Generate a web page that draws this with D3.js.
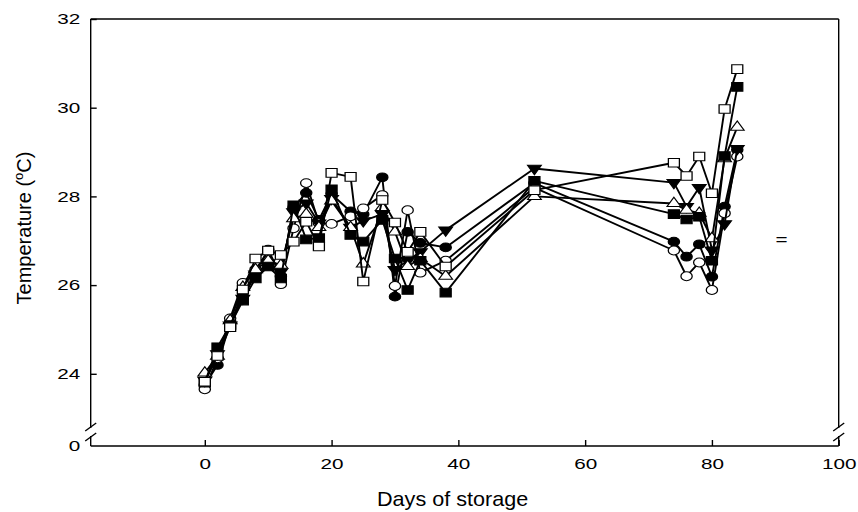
<!DOCTYPE html>
<html>
<head>
<meta charset="utf-8">
<script src="https://cdn.jsdelivr.net/npm/d3@7"></script>
<style>
  html, body { margin: 0; padding: 0; background: #fff; }
  svg { display: block; }
  text { font-family: "Liberation Sans", Arial, sans-serif; fill: #000; }
</style>
</head>
<body>
<svg id="chart" width="858" height="512"></svg>
<script>
// ---- data ----
const days = [0, 2, 4, 6, 8, 10, 12, 14, 16, 18, 20, 23, 25, 28, 30, 32, 34, 38, 52, 74, 76, 78, 80, 82, 84];

const filledCircle   = [23.75, 24.20, 25.15, 25.75, 26.30, 26.80, 26.20, 27.75, 28.08, 27.47, 28.05, 27.66, 27.60, 28.43, 25.74, 27.20, 26.95, 26.85, 28.30, 26.98, 26.64, 26.92, 26.19, 27.77, 29.05];
const openCircle     = [23.65, 24.35, 25.25, 26.05, 26.35, 26.75, 26.02, 27.28, 28.30, 27.40, 27.38, 27.55, 27.73, 28.03, 25.98, 27.69, 26.28, 26.55, 28.20, 26.78, 26.20, 26.51, 25.89, 27.62, 28.90];
const filledTriDown  = [23.85, 24.45, 25.10, 25.70, 26.25, 26.50, 26.30, 27.65, 27.85, 27.40, 27.95, 27.30, 27.45, 27.60, 26.35, 26.55, 26.75, 27.24, 28.63, 28.31, 27.77, 28.20, 26.79, 27.38, 29.08];
const openTriUp      = [24.02, 24.40, 25.20, 25.95, 26.35, 26.55, 26.45, 27.50, 27.60, 27.30, 27.90, 27.30, 26.48, 27.75, 27.20, 26.42, 26.60, 26.20, 28.00, 27.84, 27.69, 27.62, 27.05, 28.85, 29.56];
const filledSquare   = [23.80, 24.60, 25.10, 25.65, 26.15, 26.42, 26.15, 27.80, 27.03, 27.06, 28.16, 27.13, 26.98, 27.47, 26.60, 25.89, 26.55, 25.83, 28.35, 27.60, 27.48, 27.54, 26.55, 28.91, 30.47];
const openSquare     = [23.82, 24.40, 25.05, 25.90, 26.60, 26.78, 26.68, 26.98, 27.43, 26.87, 28.53, 28.44, 26.08, 27.92, 27.41, 26.75, 27.20, 26.42, 28.14, 28.76, 28.46, 28.90, 28.07, 29.97, 30.87];

const xTicks = [0, 20, 40, 60, 80, 100];
const yTicks = [0, 24, 26, 28, 30, 32];
const xTitle = "Days of storage";
const yTitleMain = "Temperature (";
const yTitleSup = "o";
const yTitleEnd = "C)";
const stray = "=";

const series = [
  { values: filledCircle,  shape: "circle",   fill: "#000" },
  { values: openCircle,    shape: "circle",   fill: "#fff" },
  { values: filledTriDown, shape: "triDown",  fill: "#000" },
  { values: openTriUp,     shape: "triUp",    fill: "#fff" },
  { values: filledSquare,  shape: "square",   fill: "#000" },
  { values: openSquare,    shape: "square",   fill: "#fff" }
];

// ---- layout ----
const svg = d3.select("#chart");
const L = 90.7, R = 838.7, T = 19, B = 446;
const SX = 1.38; // horizontal stretch of the original figure

const x = d3.scaleLinear().domain([-18, 100]).range([L, R]);
// broken axis: 0 sits at the bottom, upper segment 22.372..32
const y = d3.scaleLinear().domain([0, 22.372, 32]).range([B, B, T]);

// frame
const frame = svg.append("g").attr("stroke", "#000").attr("stroke-width", 1.4).attr("fill", "none");
frame.append("line").attr("x1", L).attr("x2", R).attr("y1", T).attr("y2", T);
frame.append("line").attr("x1", L).attr("x2", R).attr("y1", B).attr("y2", B);
[L, R].forEach(px => {
  frame.append("line").attr("x1", px).attr("x2", px).attr("y1", T).attr("y2", B - 18);
  frame.append("line").attr("x1", px).attr("x2", px).attr("y1", B - 10).attr("y2", B);
  frame.append("line").attr("x1", px - 5.5).attr("x2", px + 5.5).attr("y1", B - 15).attr("y2", B - 23);
  frame.append("line").attr("x1", px - 5.5).attr("x2", px + 5.5).attr("y1", B - 5).attr("y2", B - 13);
});

// axes
const xAxis = d3.axisBottom(x).tickValues(xTicks).tickSize(-6).tickSizeOuter(0).tickPadding(12).tickFormat(d3.format("d"));
const gx = svg.append("g").attr("transform", `translate(0,${B})`).call(xAxis);
gx.select(".domain").remove();
gx.selectAll(".tick line").attr("stroke-width", 1.4);
gx.selectAll("text").attr("font-size", 15).attr("font-family", "Liberation Sans, Arial, sans-serif")
  .attr("transform", `scale(${SX},1)`);

const yAxis = d3.axisLeft(y).tickValues(yTicks).tickSize(-6).tickSizeOuter(0).tickPadding(7.6).tickFormat(d3.format("d"));
const gy = svg.append("g").attr("transform", `translate(${L},0)`).call(yAxis);
gy.select(".domain").remove();
gy.selectAll(".tick line").attr("stroke-width", 1.4).filter(d => d === 0).remove();
gy.selectAll("text").attr("font-size", 15).attr("font-family", "Liberation Sans, Arial, sans-serif")
  .attr("transform", `scale(${SX},1)`);

// titles
svg.append("text")
  .attr("transform", `translate(377,506) scale(1.08,1)`)
  .attr("font-size", 20)
  .text(xTitle);

const yt = svg.append("text")
  .attr("transform", `translate(31,228) rotate(-90)`)
  .attr("text-anchor", "middle")
  .attr("font-size", 20);
yt.append("tspan").text(yTitleMain);
yt.append("tspan").attr("font-size", 13).attr("dy", -8).text(yTitleSup);
yt.append("tspan").attr("dy", 8).text(yTitleEnd);

svg.append("text")
  .attr("transform", `translate(781.5,245) scale(${SX},1)`)
  .attr("text-anchor", "middle")
  .attr("font-size", 15)
  .text(stray);

// data
const line = d3.line().x((d, i) => x(days[i])).y(d => y(d));
const symCircle = d3.symbol().type(d3.symbolCircle).size(Math.PI * 4.4 * 4.4)();
const symSquare = d3.symbol().type(d3.symbolSquare).size(8.6 * 8.6)();
const symTri = d3.symbol().type(d3.symbolTriangle).size(50)();

series.forEach(s => {
  svg.append("path")
    .attr("d", line(s.values))
    .attr("fill", "none")
    .attr("stroke", "#000")
    .attr("stroke-width", 1.9)
    .attr("stroke-linejoin", "round");
  svg.append("g").selectAll("path")
    .data(s.values)
    .join("path")
    .attr("d", s.shape === "circle" ? symCircle : s.shape === "square" ? symSquare : symTri)
    .attr("transform", (d, i) => {
      let t = `translate(${x(days[i])},${y(d)}) scale(1.28,1)`;
      if (s.shape === "triDown") t += " rotate(180)";
      return t;
    })
    .attr("fill", s.fill)
    .attr("stroke", "#000")
    .attr("stroke-width", 1);
});
</script>
</body>
</html>
